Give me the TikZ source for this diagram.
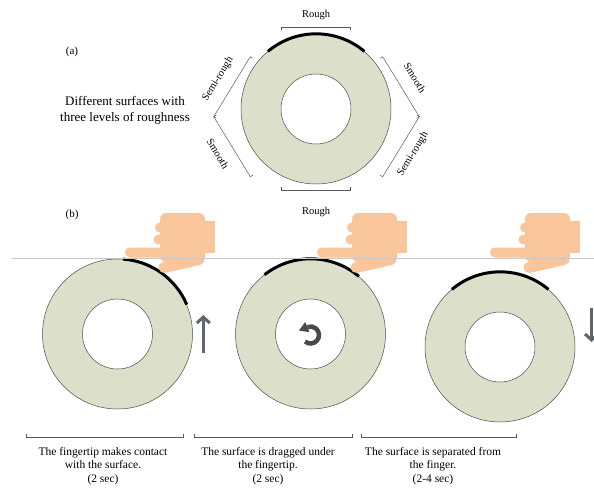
\documentclass[tikz,border=0pt]{standalone}
\usepackage{fontspec}
\setmainfont{Liberation Serif}
\usetikzlibrary{arrows.meta, positioning, calc}

\definecolor{ringfill}{HTML}{DCDFCA}
\definecolor{skin}{HTML}{F9C59A}
\definecolor{movegray}{HTML}{5F6670}
\definecolor{icongray}{HTML}{4A4A4A}
\definecolor{tableline}{HTML}{C8C8C8}

\tikzstyle{ring}=[circle,draw=black!70,line width=0.5pt,fill=ringfill,minimum size=150pt,inner sep=0pt]
\tikzstyle{hole}=[circle,draw=black!70,line width=0.5pt,fill=white,minimum size=70pt,inner sep=0pt]
\tikzstyle{rough}=[line width=3pt,black]
\tikzstyle{bracket}=[draw=black!65,line width=0.5pt]
\tikzstyle{tag}=[font=\fontsize{10.5}{12}\selectfont,inner sep=1pt]
\tikzstyle{caption}=[font=\fontsize{11.5}{13.5}\selectfont,align=center]
\tikzstyle{move}=[movegray,line width=3pt,-{Straight Barb[length=6pt,width=13pt]}]

% bracket from #1 to #2, ticks turned to the right of the way
\newcommand{\ringbracket}[2]{\draw[bracket] ($(#1)!3pt!-90:(#2)$) -- (#1) -- (#2) -- ($(#2)!3pt!90:(#1)$);}

\tikzset{hand/.pic={
  \fill[skin,rounded corners=5pt] (0,-5) rectangle (45,5);
  \fill[skin,rounded corners=6pt] (35,-9.5) rectangle (80,39.5);
  \fill[skin] (35,25) circle (5pt) (33.5,13) circle (5pt);
  \fill[skin] (74,-0.5) rectangle (90,31.5);
  \draw[skin,line width=11pt,line cap=round] (39,-15) -- (74,-7);
}}

\begin{document}
\begin{tikzpicture}[x=1pt,y=1pt]
  \useasboundingbox (0,0) rectangle (594,-496);

  % (a) one surface, three levels of roughness
  \node[font=\fontsize{11}{13}\selectfont] (parta) at (72,-52) {(a)};
  \node[font=\fontsize{13}{16}\selectfont,align=center] (about) at (125,-110)
    {Different surfaces with\\three levels of roughness};
  \node[ring] (disc) at (316,-109) {};
  \node[hole] (discin) at (disc.center) {};
  \draw[rough] (disc.50) arc[start angle=50,end angle=130,radius=75];

  \coordinate (t1) at (281.5,-27);  \coordinate (t2) at (350.5,-27);
  \coordinate (r1) at (382.7,-56.7); \coordinate (r2) at (419.3,-116.7);
  \coordinate (r3) at (382.7,-176.7);
  \coordinate (b1) at (350.5,-190); \coordinate (b2) at (281.5,-190);
  \coordinate (l1) at (250.3,-176.7); \coordinate (l2) at (213.7,-116.7);
  \coordinate (l3) at (250.3,-56.7);
  \ringbracket{t1}{t2}
  \ringbracket{r1}{r2}
  \ringbracket{r2}{r3}
  \ringbracket{b1}{b2}
  \ringbracket{l1}{l2}
  \ringbracket{l2}{l3}

  \node[tag] (roughtop) at (316,-15) {Rough};
  \node[tag] (roughbot) at (316,-212) {Rough};
  \node[tag,rotate=58.6] (semiup) at (218,-79) {Semi-rough};
  \node[tag,rotate=-58.6] (smoothdn) at (218,-154) {Smooth};
  \node[tag,rotate=-58.6] (smoothup) at (415,-78) {Smooth};
  \node[tag,rotate=58.6] (semidn) at (413,-154) {Semi-rough};

  % (b) the three steps of one touch
  \node[font=\fontsize{11}{13}\selectfont] (partb) at (72,-215) {(b)};

  \node[ring] (stepone) at (117.5,-334) {};
  \node[hole] (steponein) at (stepone.center) {};
  \draw[rough] (stepone.23) arc[start angle=23,end angle=86,radius=75];

  \node[ring,right=42.5pt of stepone] (steptwo) {};
  \node[hole] (steptwoin) at (steptwo.center) {};
  \draw[rough] (steptwo.50) arc[start angle=50,end angle=128,radius=75];

  \node[ring] (stepthree) at (500,-347) {};
  \node[hole] (stepthreein) at (stepthree.center) {};
  \draw[rough] (stepthree.50) arc[start angle=50,end angle=130,radius=75];

  \pic at (125,-252.5) {hand};
  \pic at (317,-252.5) {hand};
  \pic at (490,-252.5) {hand};

  \coordinate (tablel) at (12,-258);
  \coordinate (tabler) at (594,-258);
  \draw[tableline,line width=0.8pt] (tablel) -- (tabler);

  % lift up, turn, put down
  \coordinate (upfrom) at (203.3,-353);
  \coordinate (upto) at (203.3,-315);
  \draw[move] (upfrom) -- (upto);
  \coordinate (dnfrom) at (591.5,-308);
  \coordinate (dnto) at (591.5,-342);
  \draw[move] (dnfrom) -- (dnto);

  \coordinate (turn) at ($(steptwo.center)+(0,-1)$);
  \draw[icongray,line width=4.5pt] ([shift={(-130:8.5)}]turn) arc[start angle=-130,end angle=112,radius=8.5];
  \fill[icongray] ($(turn)+(112:8.5)+(202:9)$) -- ($(turn)+(112:14)$) -- ($(turn)+(112:3)$) -- cycle;

  % step brackets and captions
  \coordinate (s1a) at (183,-437); \coordinate (s1b) at (26,-437);
  \coordinate (s2a) at (352,-437); \coordinate (s2b) at (194,-437);
  \coordinate (s3a) at (516,-437); \coordinate (s3b) at (361,-437);
  \ringbracket{s1a}{s1b}
  \ringbracket{s2a}{s2b}
  \ringbracket{s3a}{s3b}

  \node[caption] (contact) at (103,-466) {The fingertip makes contact\\with the surface.\\(2 sec)};
  \node[caption] (drag) at (268,-466) {The surface is dragged under\\the fingertip.\\(2 sec)};
  \node[caption] (lift) at (433,-466) {The surface is separated from\\the finger.\\(2-4 sec)};
\end{tikzpicture}
\end{document}
